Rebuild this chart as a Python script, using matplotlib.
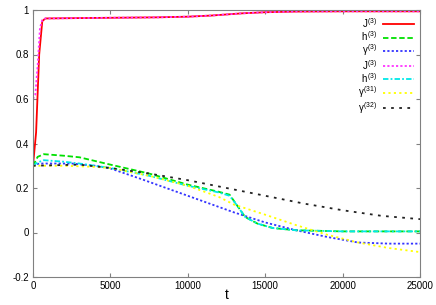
import numpy as np
import matplotlib
matplotlib.use('Agg')
import matplotlib.pyplot as plt

# values
t_J = [0, 200, 400, 600, 800, 2000, 5000, 8000, 10000, 11500, 12500, 13500, 15000, 17000, 20000, 25000]
J3 = [0.30, 0.45, 0.80, 0.95, 0.962, 0.963, 0.965, 0.967, 0.970, 0.975, 0.980, 0.985, 0.990, 0.993, 0.994, 0.994]

t_Jb = [0, 150, 300, 450, 600, 800, 2000, 5000, 8000, 10000, 11500, 12500, 13500, 15000, 17000, 20000, 25000]
J3b = [0.60, 0.62, 0.75, 0.92, 0.955, 0.962, 0.963, 0.965, 0.967, 0.970, 0.975, 0.980, 0.985, 0.990, 0.993, 0.994, 0.994]

t_h = [0, 300, 700, 2000, 3000, 5000, 7500, 10000, 12000, 12700, 13200, 13700, 14500, 15500, 17000, 20000, 25000]
h3 = [0.30, 0.34, 0.352, 0.345, 0.338, 0.305, 0.265, 0.215, 0.183, 0.17, 0.12, 0.07, 0.04, 0.02, 0.01, 0.005, 0.005]
h3b = [0.30, 0.315, 0.325, 0.318, 0.31, 0.29, 0.255, 0.21, 0.18, 0.165, 0.12, 0.07, 0.04, 0.02, 0.01, 0.005, 0.005]

t_g = [0, 400, 2500, 4000, 5000, 7000, 9000, 11000, 13000, 15000, 17000, 19000, 21000, 23000, 25000]
g3 = [0.30, 0.31, 0.31, 0.30, 0.288, 0.24, 0.19, 0.14, 0.09, 0.045, 0.01, -0.02, -0.045, -0.05, -0.05]

t_g31 = [0, 2000, 4000, 5000, 7500, 10000, 12000, 13000, 15000, 17000, 19000, 21000, 23000, 25000]
g31 = [0.30, 0.30, 0.295, 0.29, 0.255, 0.21, 0.16, 0.125, 0.08, 0.033, -0.01, -0.045, -0.07, -0.088]

t_g32 = [0, 3000, 5000, 7500, 10000, 12500, 15000, 17500, 20000, 22500, 25000]
g32 = [0.30, 0.305, 0.29, 0.265, 0.235, 0.20, 0.165, 0.13, 0.10, 0.075, 0.06]

plt.rcParams['font.family'] = ['Liberation Sans', 'DejaVu Sans']
plt.rcParams['mathtext.fontset'] = 'custom'
plt.rcParams['mathtext.rm'] = 'Liberation Sans'
plt.rcParams['mathtext.it'] = 'Liberation Sans'

fig = plt.figure(figsize=(4.36, 3.05), dpi=100)
ax = fig.add_axes([33/436, 1-277/305, (420-33)/436, (277-10)/305])

ax.plot(t_J, J3, color='#ff0000', lw=1.3, label=r'$J^{(3)}$')
ax.plot(t_h, h3, color='#00e000', lw=1.3, dashes=(3, 1.5), label=r'$h^{(3)}$')
ax.plot(t_g, g3, color='#3333ff', lw=1.3, dashes=(1.2, 1.2), label=r'$\gamma^{(3)}$')
ax.plot(t_Jb, J3b, color='#ff33ff', lw=1.3, dashes=(1.2, 1.2), label=r'$J^{(3)}$')
ax.plot(t_h, h3b, color='#00e8e8', lw=1.3, dashes=(3, 1.2, 1, 1.2), label=r'$h^{(3)}$')
ax.plot(t_g31, g31, color='#ffff00', lw=1.3, dashes=(1.2, 1.8), label=r'$\gamma^{(31)}$')
ax.plot(t_g32, g32, color='#222222', lw=1.3, dashes=(1.5, 3), label=r'$\gamma^{(32)}$')

ax.set_xlim(0, 25000)
ax.set_ylim(-0.2, 1.0)
ax.set_xticks([0, 5000, 10000, 15000, 20000, 25000])
ax.set_yticks([-0.2, 0, 0.2, 0.4, 0.6, 0.8, 1])
ax.set_yticklabels(['-0.2', '0', '0.2', '0.4', '0.6', '0.8', '1'])
ax.tick_params(direction='in', top=True, right=True, labelsize=7, length=3, color='#808080', pad=3)
for s in ax.spines.values():
    s.set_color('#808080')
ax.set_xlabel('t', fontsize=10, labelpad=-2)

ax.legend(loc='upper right', frameon=False, markerfirst=False, fontsize=7,
          handlelength=3.2, labelspacing=-0.05, borderaxespad=0.2, handletextpad=0.6)

fig.savefig('out.png', dpi=100)
